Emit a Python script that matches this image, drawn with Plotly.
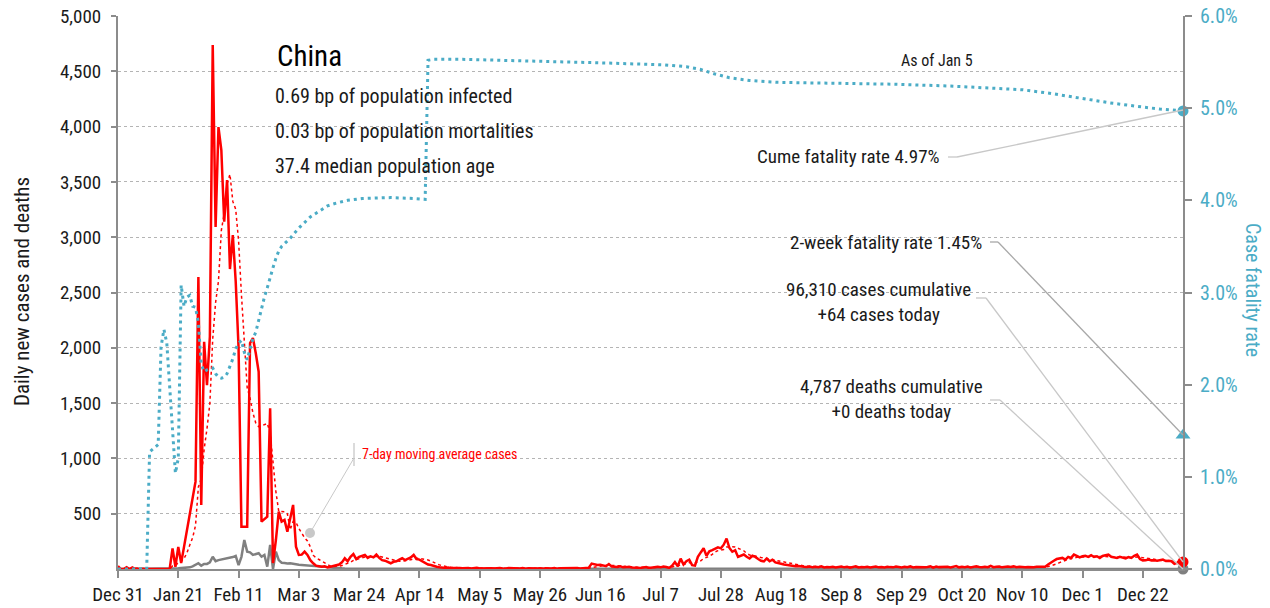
import pandas as pd
import plotly.graph_objects as go

# ---------------- data ----------------
start_date = "2019-12-31"
end_date = "2021-01-05"

# daily new cases (Dec 31 2019 .. Jan 5 2021)
cases = [
    27, 0, 0, 17, 0, 15, 0, 0, 0, 0,
    0, 0, 0, 0, 0, 0, 0, 0, 0, 187,
    20, 200, 54, 200, 350, 506, 650, 790, 2640, 579,
    2055, 1663, 2100, 4738, 3092, 3996, 3788, 3140, 3517, 2712,
    3020, 2600, 2000, 383, 383, 383, 2043, 2088, 1950, 1784,
    428, 450, 473, 1453, 54, 262, 518, 428, 443, 337,
    450, 579, 202, 127, 130, 157, 127, 80, 52, 30,
    25, 20, 25, 15, 20, 25, 30, 40, 60, 97,
    70, 110, 135, 90, 110, 120, 127, 100, 115, 105,
    130, 100, 80, 75, 60, 52, 65, 70, 85, 97,
    80, 90, 105, 127, 90, 85, 70, 55, 40, 36,
    25, 20, 15, 12, 10, 14, 8, 10, 12, 9,
    6, 10, 8, 5, 7, 12, 4, 6, 9, 5,
    7, 4, 6, 10, 5, 3, 8, 6, 4, 7,
    5, 9, 3, 6, 4, 8, 5, 7, 3, 6,
    4, 5, 8, 3, 6, 7, 4, 5, 9, 6,
    8, 5, 7, 10, 12, 49, 40, 36, 38, 30,
    25, 45, 22, 20, 18, 24, 15, 17, 20, 14,
    12, 15, 10, 14, 18, 9, 12, 16, 20, 15,
    22, 18, 10, 30, 62, 25, 94, 40, 70, 84,
    35, 31, 110, 150, 187, 120, 160, 170, 180, 195,
    187, 220, 275, 190, 156, 170, 109, 120, 131, 110,
    95, 120, 109, 90, 75, 69, 95, 70, 84, 60,
    50, 47, 40, 35, 31, 30, 25, 28, 22, 20,
    18, 22, 15, 20, 17, 24, 14, 19, 16, 21,
    13, 18, 22, 15, 20, 12, 17, 25, 14, 19,
    16, 20, 13, 18, 23, 15, 19, 14, 21, 17,
    15, 22, 18, 13, 20, 16, 24, 14, 19, 17,
    20, 15, 18, 25, 13, 22, 17, 19, 16, 21,
    14, 18, 26, 15, 20, 17, 22, 13, 19, 24,
    18, 15, 21, 17, 28, 16, 20, 23, 15, 19,
    22, 18, 25, 16, 21, 19, 15, 18, 14, 16,
    20, 18, 22, 20, 40, 60, 75, 90, 94, 100,
    85, 110, 100, 130, 119, 105, 115, 120, 110, 125,
    109, 115, 100, 118, 125, 130, 110, 105, 100, 110,
    100, 95, 108, 100, 119, 130, 90, 78, 80, 85,
    78, 80, 75, 80, 85, 72, 75, 70, 47, 55,
    60, 64,
]

# daily new deaths
deaths = [
    0, 0, 0, 0, 0, 0, 0, 0, 0, 0,
    0, 1, 0, 0, 0, 0, 0, 0, 0, 2,
    3, 6, 8, 10, 16, 15, 24, 40, 52, 30,
    45, 46, 60, 111, 70, 80, 85, 90, 97, 100,
    108, 118, 36, 110, 262, 157, 150, 127, 135, 142,
    111, 127, 21, 217, 0, 157, 80, 57, 55, 50,
    52, 45, 40, 38, 37, 35, 36, 32, 30, 28,
    27, 27, 22, 17, 13, 10, 8, 8, 6, 5,
    4, 4, 3, 3, 3, 4, 3, 2, 3, 3,
    2, 3, 2, 1, 2, 1, 2, 1, 1, 2,
    1, 2, 1, 1, 0, 1, 0, 1, 0, 1,
    0, 0, 1, 0, 0, 0, 1, 0, 0, 0,
    0, 0, 0, 0, 0, 0, 0, 0, 0, 0,
    0, 0, 0, 0, 0, 0, 0, 0, 0, 0,
    0, 0, 0, 0, 0, 0, 0, 0, 0, 0,
    0, 0, 0, 0, 0, 0, 0, 0, 0, 0,
    0, 0, 0, 0, 0, 0, 0, 0, 0, 0,
    0, 0, 0, 0, 0, 0, 0, 0, 0, 0,
    0, 0, 0, 0, 0, 0, 0, 0, 0, 0,
    0, 0, 0, 0, 0, 1, 0, 0, 0, 1,
    0, 1, 0, 2, 1, 2, 1, 3, 2, 1,
    2, 3, 2, 4, 3, 2, 5, 3, 4, 2,
    3, 2, 4, 3, 2, 3, 1, 2, 3, 2,
    1, 2, 1, 2, 1, 1, 0, 1, 1, 0,
    1, 0, 1, 0, 1, 0, 0, 1, 0, 0,
    0, 0, 0, 0, 0, 0, 0, 0, 0, 0,
    0, 0, 0, 0, 0, 0, 0, 0, 0, 0,
    0, 0, 0, 0, 0, 0, 0, 0, 0, 0,
    0, 0, 0, 0, 0, 0, 0, 0, 0, 0,
    0, 0, 0, 0, 0, 0, 0, 0, 0, 0,
    0, 0, 0, 0, 0, 0, 0, 0, 0, 0,
    0, 0, 0, 0, 0, 0, 0, 0, 0, 0,
    0, 0, 0, 0, 0, 0, 0, 0, 0, 0,
    1, 2, 1, 2, 3, 1, 2, 2, 1, 3,
    2, 1, 2, 3, 2, 1, 2, 2, 3, 1,
    2, 2, 1, 3, 2, 2, 1, 2, 2, 1,
    2, 1, 2, 2, 1, 2, 1, 1, 1, 0,
    1, 0,
]

# cumulative case fatality rate (%), day offset from start_date
cfr_day = [0, 10, 11, 12, 13, 14, 15, 16, 17, 18, 19, 20, 21, 22, 23, 24, 25, 26, 27, 28,
           29, 30, 31, 32, 33, 34, 35, 36, 37, 38, 39, 40, 41, 42, 43, 44, 45, 46, 47, 48,
           49, 50, 51, 52, 53, 54, 55, 56, 57, 58, 60, 63, 67, 70, 73, 76, 80, 85, 95, 103,
           107, 108, 110, 120, 150, 170, 190, 198, 203, 208, 213, 220, 230, 250, 270, 290,
           305, 315, 325, 335, 345, 355, 363, 371]
cfr_pct = [0, 0, 1.27, 1.30, 1.33, 1.35, 2.41, 2.60, 2.45, 2.00, 1.45, 1.04, 1.20, 3.08, 2.85,
           2.95, 2.97, 2.85, 2.84, 2.67, 2.22, 2.14, 2.16, 2.17, 2.18, 2.12, 2.08, 2.07, 2.08,
           2.12, 2.20, 2.28, 2.39, 2.45, 2.48, 2.35, 2.27, 2.40, 2.50, 2.57, 2.70, 2.82, 2.95,
           3.05, 3.17, 3.27, 3.37, 3.45, 3.50, 3.53, 3.59, 3.70, 3.82, 3.88, 3.94, 3.97, 4.00,
           4.02, 4.03, 4.02, 4.01, 5.52, 5.53, 5.53, 5.51, 5.49, 5.47, 5.45, 5.42, 5.37, 5.33,
           5.30, 5.28, 5.27, 5.26, 5.24, 5.22, 5.20, 5.16, 5.11, 5.06, 5.02, 4.99, 4.97]
two_week_cfr = 1.45

left_ticks = [500, 1000, 1500, 2000, 2500, 3000, 3500, 4000, 4500, 5000]
right_ticks = [0, 1, 2, 3, 4, 5, 6]
right_tick_labels = ["0.0%", "1.0%", "2.0%", "3.0%", "4.0%", "5.0%", "6.0%"]

# ---------------- derived ----------------
dates = pd.date_range(start_date, periods=len(cases), freq="D")
ma7 = pd.Series(cases, index=dates).rolling(7, min_periods=7).mean()
cfr_dates = [dates[0] + pd.Timedelta(days=d) for d in cfr_day]
last = dates[-1]

RED = "#ff0000"
GREY = "#808080"
TEAL = "#4bacc6"
TXT = "#1a1a1a"
FONT = "Roboto Condensed, Liberation Sans Narrow, Roboto, sans-serif"

# page offset introduced by the html body margin
OFF = 8
PAGE_W, PAGE_H = 1270, 608
# plot area in page pixels
L, R, T, B = 118, 1183, 16, 569


def px(x):
    return (x - L) / (R - L)


def py(y):
    return (B - y) / (B - T)


fig = go.Figure()
fig.add_trace(go.Scatter(x=dates, y=deaths, mode="lines", line=dict(color=GREY, width=2.5),
                         hoverinfo="skip"))
fig.add_trace(go.Scatter(x=dates, y=ma7, mode="lines", line=dict(color=RED, width=1.5, dash="dot"),
                         hoverinfo="skip"))
fig.add_trace(go.Scatter(x=dates, y=cases, mode="lines", line=dict(color=RED, width=2.5),
                         hoverinfo="skip"))
fig.add_trace(go.Scatter(x=cfr_dates, y=cfr_pct, yaxis="y2", mode="lines",
                         line=dict(color=TEAL, width=3, dash="3px,4px"), hoverinfo="skip"))

# end markers
fig.add_trace(go.Scatter(x=[last], y=[deaths[-1]], mode="markers", cliponaxis=False,
                         marker=dict(color=GREY, size=11)))
fig.add_trace(go.Scatter(x=[last], y=[cases[-1]], mode="markers", cliponaxis=False,
                         marker=dict(color=RED, size=11)))
fig.add_trace(go.Scatter(x=[last], y=[cfr_pct[-1]], yaxis="y2", mode="markers", cliponaxis=False,
                         marker=dict(color=TEAL, size=11)))
fig.add_trace(go.Scatter(x=[last], y=[two_week_cfr], yaxis="y2", mode="markers", cliponaxis=False,
                         marker=dict(color=TEAL, size=13, symbol="triangle-up")))

shapes = []


def seg(x0, y0, x1, y1, color, width=1.3):
    shapes.append(dict(type="line", xref="paper", yref="paper",
                       x0=px(x0), y0=py(y0), x1=px(x1), y1=py(y1),
                       line=dict(color=color, width=width), layer="above"))


LIGHT = "#c8c8c8"
DARK = "#a8a8a8"
seg(948, 157, 957, 157, LIGHT)
seg(957, 157, R, 110, LIGHT)
seg(990, 242, 998, 242, DARK)
seg(998, 242, R, 435, DARK)
seg(976, 298, 986, 298, LIGHT)
seg(986, 298, R, 562, LIGHT)
seg(990, 400, 1000, 400, LIGHT)
seg(1000, 400, R, 569, LIGHT)
seg(310, 533, 354, 458, LIGHT, 1)
seg(354, 443, 354, 466, LIGHT, 1.3)
shapes.append(dict(type="circle", xref="paper", yref="paper", xsizemode="pixel", ysizemode="pixel",
                   xanchor=px(310), yanchor=py(533), x0=-5, x1=5, y0=-5, y1=5,
                   fillcolor=LIGHT, line=dict(width=0), layer="above"))

annotations = [
    dict(text="China", x=px(275), y=py(56), xanchor="left", yanchor="middle",
         font=dict(size=29, color="#000")),
    dict(text="0.69 bp of population infected", x=px(273), y=py(96), xanchor="left",
         yanchor="middle", font=dict(size=20, color=TXT)),
    dict(text="0.03 bp of population mortalities", x=px(273), y=py(131), xanchor="left",
         yanchor="middle", font=dict(size=20, color=TXT)),
    dict(text="37.4 median population age", x=px(273), y=py(166), xanchor="left",
         yanchor="middle", font=dict(size=20, color=TXT)),
    dict(text="As of Jan 5", x=px(937), y=py(60), xanchor="center", yanchor="middle",
         font=dict(size=16, color=TXT)),
    dict(text="Cume fatality rate 4.97%", x=px(942), y=py(157), xanchor="right",
         yanchor="middle", font=dict(size=19, color=TXT)),
    dict(text="2-week fatality rate 1.45%", x=px(984), y=py(242), xanchor="right",
         yanchor="middle", font=dict(size=19, color=TXT)),
    dict(text="96,310 cases cumulative<br>+64 cases today", x=px(878), y=py(302),
         xanchor="center", yanchor="middle", align="center", font=dict(size=19, color=TXT)),
    dict(text="4,787 deaths cumulative<br>+0 deaths today", x=px(891), y=py(399),
         xanchor="center", yanchor="middle", align="center", font=dict(size=19, color=TXT)),
    dict(text="7-day moving average cases", x=px(360), y=py(454), xanchor="left",
         yanchor="middle", font=dict(size=14, color=RED)),
    dict(text="Daily new cases and deaths", x=px(22), y=py(292), textangle=-90,
         xanchor="center", yanchor="middle", font=dict(size=21, color=TXT)),
    dict(text="Case fatality rate", x=px(1253), y=py(290), textangle=90,
         xanchor="center", yanchor="middle", font=dict(size=20, color=TEAL)),
]
for a in annotations:
    a.update(xref="paper", yref="paper", showarrow=False)

fig.update_layout(
    width=PAGE_W - OFF, height=PAGE_H - OFF, autosize=False,
    margin=dict(l=L - OFF, r=PAGE_W - R, t=T - OFF, b=PAGE_H - B, pad=0, autoexpand=False),
    paper_bgcolor="white", plot_bgcolor="white",
    font=dict(family=FONT, size=19, color=TXT),
    showlegend=False, hovermode=False,
    xaxis=dict(
        type="date", range=[start_date, end_date], automargin=False,
        tickmode="linear", tick0=start_date, dtick=21 * 86400000, tickformat="%b %-d",
        tickangle=0, ticklabeloverflow="allow",
        showline=True, linecolor="#8c8c8c", linewidth=2,
        ticks="outside", ticklen=7, tickwidth=1.5, tickcolor="#8c8c8c",
        showgrid=False, zeroline=False, tickfont=dict(size=19, color=TXT),
    ),
    yaxis=dict(
        range=[0, 5000], tickmode="array", tickvals=left_ticks, tickformat=",d",
        automargin=False, ticklabeloverflow="allow",
        showline=True, linecolor="#8c8c8c", linewidth=2,
        ticks="outside", ticklen=5, tickwidth=1.5, tickcolor="#8c8c8c",
        showgrid=True, gridcolor="#b4b4b4", griddash="dot", gridwidth=1.2,
        zeroline=False, tickfont=dict(size=19, color=TXT), ticklabelstandoff=6,
    ),
    yaxis2=dict(
        overlaying="y", side="right", range=[0, 6], tickmode="array", tickvals=right_ticks,
        ticktext=right_tick_labels, automargin=False, ticklabeloverflow="allow",
        showline=True, linecolor="#8c8c8c", linewidth=2,
        ticks="outside", ticklen=7, tickwidth=1.5, tickcolor="#8c8c8c",
        showgrid=False, zeroline=False, tickfont=dict(size=20, color=TEAL), ticklabelstandoff=4,
    ),
    shapes=shapes,
    annotations=annotations,
)

fig.write_html("out.html")
